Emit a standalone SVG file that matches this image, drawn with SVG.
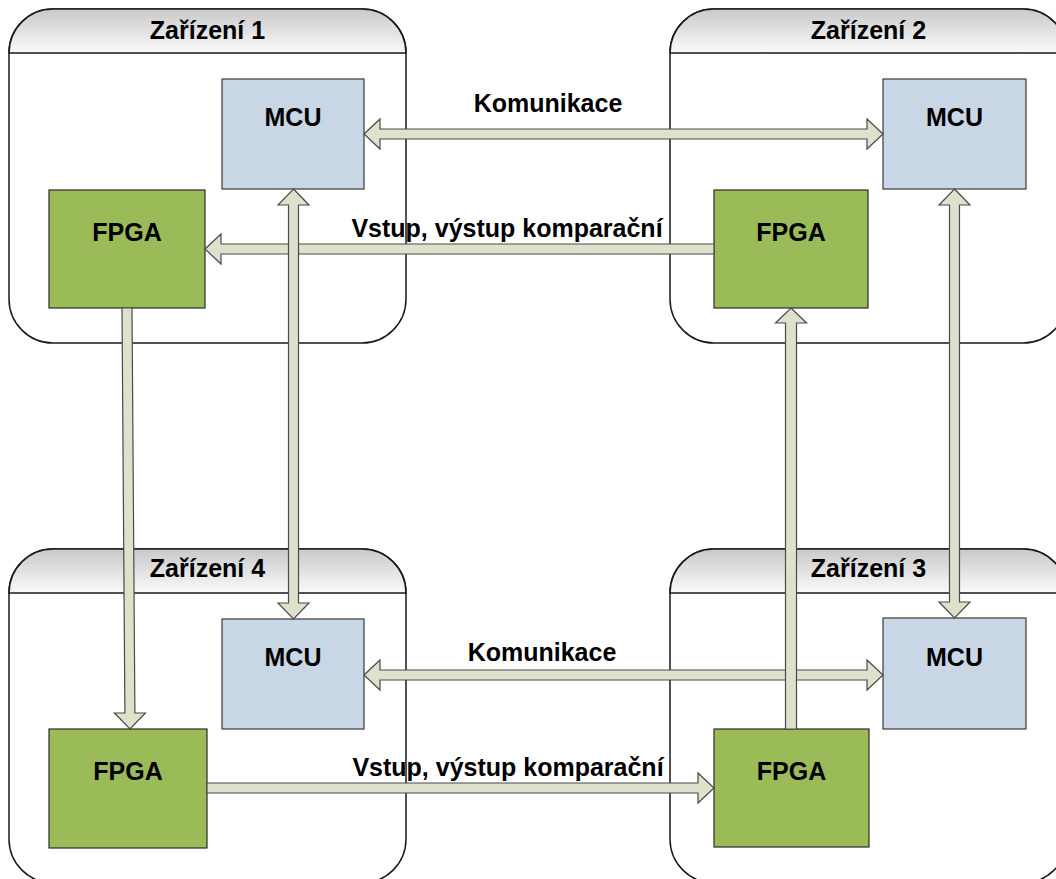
<svg xmlns="http://www.w3.org/2000/svg" width="1056" height="879" viewBox="0 0 1056 879">
<defs>
<linearGradient id="hdr" x1="0" y1="0" x2="0" y2="1">
<stop offset="0" stop-color="#c9c9c9"/>
<stop offset="1" stop-color="#fafafa"/>
</linearGradient>
</defs>
<style>
.dev{fill:#ffffff;stroke:#1a1a1a;stroke-width:1.5}
.hdr{fill:url(#hdr);stroke:#1a1a1a;stroke-width:1.5}
.mcu{fill:#c9d6e5;stroke:#3a3a3a;stroke-width:1.2}
.fpga{fill:#9bbb59;stroke:#2a2a2a;stroke-width:1.2}
.arr{fill:#dee2cc;stroke:#4a4a4a;stroke-width:1.2;stroke-linejoin:miter}
text{font-family:"Liberation Sans",Arial,sans-serif;font-weight:bold;font-size:25px;fill:#000;text-anchor:middle}
</style>
<rect width="1056" height="879" fill="#ffffff"/>
<g id="device1">
<path class="dev" d="M53,9 H362 A44,44 0 0 1 406,53 V299 A44,44 0 0 1 362,343 H53 A44,44 0 0 1 9,299 V53 A44,44 0 0 1 53,9 Z"/>
<path class="hdr" d="M9,53 A44,44 0 0 1 53,9 H362 A44,44 0 0 1 406,53 Z"/>
<text x="207.5" y="39">Zařízení 1</text>
</g>
<g id="device2">
<path class="dev" d="M714,9 H1023 A44,44 0 0 1 1067,53 V299 A44,44 0 0 1 1023,343 H714 A44,44 0 0 1 670,299 V53 A44,44 0 0 1 714,9 Z"/>
<path class="hdr" d="M670,53 A44,44 0 0 1 714,9 H1023 A44,44 0 0 1 1067,53 Z"/>
<text x="868.5" y="39">Zařízení 2</text>
</g>
<g id="device4">
<path class="dev" d="M53,549 H362 A44,44 0 0 1 406,593 V839 A44,44 0 0 1 362,883 H53 A44,44 0 0 1 9,839 V593 A44,44 0 0 1 53,549 Z"/>
<path class="hdr" d="M9,593 A44,44 0 0 1 53,549 H362 A44,44 0 0 1 406,593 Z"/>
<text x="207.5" y="577">Zařízení 4</text>
</g>
<g id="device3">
<path class="dev" d="M714,549 H1023 A44,44 0 0 1 1067,593 V839 A44,44 0 0 1 1023,883 H714 A44,44 0 0 1 670,839 V593 A44,44 0 0 1 714,549 Z"/>
<path class="hdr" d="M670,593 A44,44 0 0 1 714,549 H1023 A44,44 0 0 1 1067,593 Z"/>
<text x="868.5" y="577">Zařízení 3</text>
</g>
<g id="mcu1"><rect class="mcu" x="222" y="79" width="142" height="110"/><text x="293" y="126">MCU</text></g>
<g id="mcu2"><rect class="mcu" x="883" y="79" width="143" height="110"/><text x="954.5" y="126">MCU</text></g>
<g id="mcu4"><rect class="mcu" x="222" y="619" width="142" height="110"/><text x="293" y="666">MCU</text></g>
<g id="mcu3"><rect class="mcu" x="883" y="618" width="143" height="111"/><text x="954.5" y="666">MCU</text></g>
<g id="fpga1"><rect class="fpga" x="49" y="190" width="156" height="118"/><text x="127" y="241">FPGA</text></g>
<g id="fpga2"><rect class="fpga" x="714" y="190" width="154" height="118"/><text x="791" y="241">FPGA</text></g>
<g id="fpga4"><rect class="fpga" x="49" y="729" width="158" height="119"/><text x="128" y="780">FPGA</text></g>
<g id="fpga3"><rect class="fpga" x="714" y="729" width="155" height="118"/><text x="791.5" y="780">FPGA</text></g>
<g id="connectors">
<path class="arr" d="M364,134 L380,119 L380,129 L867,129 L867,119 L883,134 L867,149 L867,139 L380,139 L380,149 Z"/>
<path class="arr" d="M364,675 L380,660 L380,670 L867,670 L867,660 L883,675 L867,690 L867,680 L380,680 L380,690 Z"/>
<path class="arr" d="M205,249 L221,234 L221,244 L714,244 L714,254 L221,254 L221,264 Z"/>
<path class="arr" d="M207,783 L698,783 L698,773 L714,788 L698,803 L698,793 L207,793 Z"/>
<path class="arr" d="M293.5,189 L309,205 L298.5,205 L298.5,603 L309,603 L293.5,619 L278,603 L288.5,603 L288.5,205 L278,205 Z"/>
<path class="arr" d="M954.5,189 L970,205 L959.5,205 L959.5,602 L970,602 L954.5,618 L939,602 L949.5,602 L949.5,205 L939,205 Z"/>
<path class="arr" d="M791,308 L806.5,323 L796.5,323 L796.5,729 L785.5,729 L785.5,323 L775.5,323 Z"/>
<path class="arr" d="M132,308 L134.9,713 L145.4,713 L130,729 L114.4,713 L124.9,713 L122,308 Z"/>
<text x="548" y="112">Komunikace</text>
<text x="507" y="237">Vstup, výstup komparační</text>
<text x="542" y="661">Komunikace</text>
<text x="508" y="776">Vstup, výstup komparační</text>
</g>
</svg>
